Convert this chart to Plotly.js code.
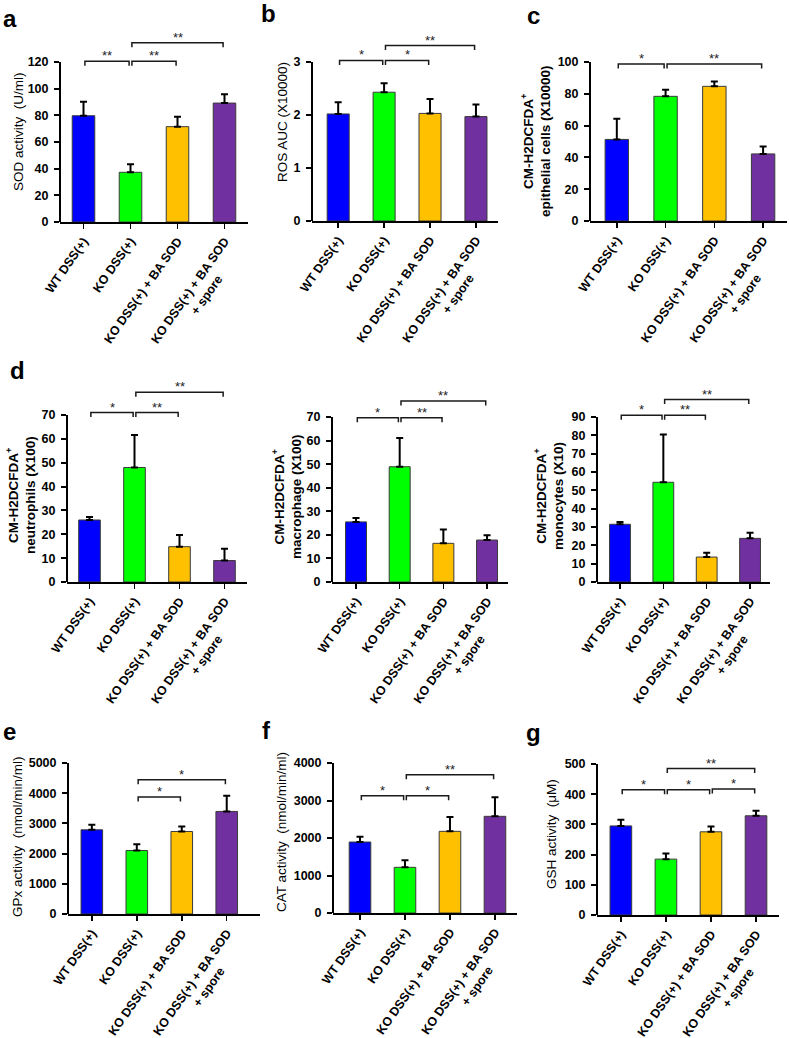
<!DOCTYPE html>
<html><head><meta charset="utf-8">
<script src="https://cdn.plot.ly/plotly-3.0.1.min.js"></script>
<style>html,body{margin:0;padding:0;background:#fff}#chart{width:789px;height:1038px}</style>
</head><body><div id="chart"></div>
<script>
// ---------- data ----------
const categories = ['WT DSS(+)', 'KO DSS(+)', 'KO DSS(+) + BA SOD', 'KO DSS(+) + BA SOD<br>+ spore'];
const barColors = ['#0000FF', '#00FF00', '#FFC000', '#7030A0'];
const noLowerError = [0, 0, 0, 0];

const sodMean = [79.7, 37.3, 71.5, 89.2];
const sodErr  = [10.5, 6.0, 7.5, 6.6];
const sodTicks = [0, 20, 40, 60, 80, 100, 120];
const sodSig = [[0, 1, 120.5, '**'], [1, 2, 120.5, '**'], [1, 3, 134.5, '**']];

const rosMean = [2.02, 2.43, 2.03, 1.97];
const rosErr  = [0.22, 0.17, 0.27, 0.23];
const rosTicks = [0, 1, 2, 3];
const rosSig = [[0, 1, 3.03, '*'], [1, 2, 3.03, '*'], [1, 3, 3.31, '**']];

const epiMean = [51.3, 78.4, 84.7, 42.2];
const epiErr  = [13.0, 4.2, 3.1, 4.6];
const epiTicks = [0, 20, 40, 60, 80, 100];
const epiSig = [[0, 1, 98.7, '*'], [1, 3, 98.7, '**']];

const neuMean = [26.0, 48.0, 14.8, 9.0];
const neuErr  = [1.2, 13.6, 4.9, 4.9];
const neuTicks = [0, 10, 20, 30, 40, 50, 60, 70];
const neuSig = [[0, 1, 71.0, '*'], [1, 2, 71.0, '**'], [1, 3, 79.5, '**']];

const macMean = [25.5, 48.9, 16.4, 17.8];
const macErr  = [1.7, 12.2, 5.9, 2.0];
const macTicks = [0, 10, 20, 30, 40, 50, 60, 70];
const macSig = [[0, 1, 69.7, '*'], [1, 2, 69.7, '**'], [1, 3, 76.8, '**']];

const monMean = [31.5, 54.4, 13.6, 23.8];
const monErr  = [1.2, 26.0, 2.4, 3.1];
const monTicks = [0, 10, 20, 30, 40, 50, 60, 70, 80, 90];
const monSig = [[0, 1, 90.9, '*'], [1, 2, 90.9, '**'], [1, 3, 99.5, '**']];

const gpxMean = [2788, 2102, 2732, 3396];
const gpxErr  = [166, 210, 166, 520];
const gpxTicks = [0, 1000, 2000, 3000, 4000, 5000];
const gpxSig = [[1, 2, 3872, '*'], [1, 3, 4447, '*']];

const catMean = [1893, 1218, 2178, 2578];
const catErr  = [143, 186, 382, 506];
const catTicks = [0, 1000, 2000, 3000, 4000];
const catSig = [[0, 1, 3129, '*'], [1, 2, 3129, '*'], [1, 3, 3689, '**']];

const gshMean = [295, 185, 275.5, 328.5];
const gshErr  = [20, 19, 17.5, 16.5];
const gshTicks = [0, 100, 200, 300, 400, 500];
const gshSig = [[0, 1, 415, '*'], [1, 2, 415, '*'], [2, 3, 417, '*'], [1, 3, 485, '**']];

// ---------- layout of panels (pixel boxes: left, right, bottom(y=0), top(y=max)) ----------
const panels = [
  {letter: 'a', lpos: [10, 18],  mean: sodMean, err: sodErr, ticks: sodTicks, sig: sodSig,
   title: 'SOD activity  (U/ml)', bold: false, tpos: [18, 132], box: [60, 248, 222, 62], xr: [-0.5, 3.5]},
  {letter: 'b', lpos: [268, 13], mean: rosMean, err: rosErr, ticks: rosTicks, sig: rosSig,
   title: 'ROS AUC (X10000)', bold: false, tpos: [283, 122], box: [312, 498, 221, 62], xr: [-0.57, 3.48]},
  {letter: 'c', lpos: [533, 15], mean: epiMean, err: epiErr, ticks: epiTicks, sig: epiSig,
   title: 'CM-H2DCFDA<sup>+</sup><br>epithelial cells (X10000)', bold: true, tpos: [535, 141], box: [590, 787, 221, 62], xr: [-0.55, 3.49]},
  {letter: 'd', lpos: [17, 370], mean: neuMean, err: neuErr, ticks: neuTicks, sig: neuSig,
   title: 'CM-H2DCFDA<sup>+</sup><br>neutrophils (X100)', bold: true, tpos: [20, 495], box: [67, 247, 582, 415], xr: [-0.5, 3.5]},
  {letter: '', lpos: null, mean: macMean, err: macErr, ticks: macTicks, sig: macSig,
   title: 'CM-H2DCFDA<sup>+</sup><br>macrophage (X100)', bold: true, tpos: [286, 497], box: [332, 508, 582, 417], xr: [-0.55, 3.48]},
  {letter: '', lpos: null, mean: monMean, err: monErr, ticks: monTicks, sig: monSig,
   title: 'CM-H2DCFDA<sup>+</sup><br>monocytes (X10)', bold: true, tpos: [548, 496], box: [597, 770, 582, 417], xr: [-0.53, 3.46]},
  {letter: 'e', lpos: [9, 731],  mean: gpxMean, err: gpxErr, ticks: gpxTicks, sig: gpxSig,
   title: 'GPx activity  (nmol/min/ml)', bold: false, tpos: [17, 837], box: [68, 260, 914, 763], xr: [-0.53, 3.74]},
  {letter: 'f', lpos: [266, 730], mean: catMean, err: catErr, ticks: catTicks, sig: catSig,
   title: 'CAT activity  (nmol/min/ml)', bold: false, tpos: [281, 832], box: [333, 517, 913, 763], xr: [-0.6, 3.49]},
  {letter: 'g', lpos: [533, 732], mean: gshMean, err: gshErr, ticks: gshTicks, sig: gshSig,
   title: 'GSH activity  (\u03bcM)', bold: false, tpos: [551, 834], box: [597, 779, 915, 764], xr: [-0.53, 3.51]}
];

const W = 789, H = 1038;
const K = 1.25;           // range headroom above the top tick (room for brackets)
const FONT = 'Liberation Sans, Arial, Helvetica, sans-serif';
const xIdx = [0, 1, 2, 3];
// centre the second line of a wrapped tick label under the first (labels are end-anchored)
const NB = '\u00a0';
const tickText = categories.map(c => {
  const parts = c.split('<br>');
  if (parts.length < 2) return c;
  return parts[0] + '<br>' + parts[1] + NB.repeat(10);
});

const traces = [];
const layout = {
  width: W, height: H, margin: {l: 0, r: 0, t: 0, b: 0},
  paper_bgcolor: '#ffffff', plot_bgcolor: 'rgba(0,0,0,0)',
  showlegend: false, font: {family: FONT, color: '#000'},
  shapes: [], annotations: []
};

panels.forEach((p, i) => {
  const n = i === 0 ? '' : String(i + 1);
  const xa = 'x' + n, ya = 'y' + n;
  const [L, R, B, T] = p.box;
  const ymax = p.ticks[p.ticks.length - 1];
  const ytop = ymax * K;
  const domTop = B - (B - T) * K;
  const plotH = B - domTop;
  const leg = ytop / plotH * 4.5;  // bracket legs in px

  traces.push({
    type: 'bar', x: xIdx, y: p.mean, xaxis: xa, yaxis: ya, width: 0.48,
    marker: {color: barColors, line: {color: '#3a3a3a', width: 1}},
    error_y: {type: 'data', symmetric: false, array: p.err, arrayminus: noLowerError,
              color: '#000', thickness: 2, width: 3.5},
    hoverinfo: 'none'
  });

  layout['xaxis' + n] = {
    domain: [L / W, R / W], anchor: ya, range: p.xr, fixedrange: true,
    tickvals: xIdx, ticktext: tickText, tickangle: -55,
    ticks: 'outside', ticklen: 5, tickwidth: 1.5, tickcolor: '#000',
    showline: true, linewidth: 2, linecolor: '#000', showgrid: false, zeroline: false,
    tickfont: {family: FONT, size: 12.5, color: '#000', weight: 'bold'}
  };
  layout['yaxis' + n] = {
    domain: [1 - B / H, 1 - domTop / H], anchor: xa, range: [0, ytop], fixedrange: true,
    tickvals: p.ticks, ticks: 'outside', ticklen: 5, tickwidth: 2, tickcolor: '#000',
    showline: false, showgrid: false, zeroline: false, ticklabelstandoff: 3,
    tickfont: {family: FONT, size: 12.5, color: '#000', weight: 'bold'}
  };

  // y axis line, only up to the top tick
  layout.shapes.push({type: 'line', xref: xa + ' domain', yref: ya, x0: 0, x1: 0, y0: 0, y1: ymax,
                      line: {color: '#000', width: 2}});

  // significance brackets
  p.sig.forEach(([a, b, lvl, txt]) => {
    const x0 = a + 0.03, x1 = b - 0.03;
    layout.shapes.push({type: 'path', xref: xa, yref: ya,
      path: `M${x0},${lvl - leg} L${x0},${lvl} L${x1},${lvl} L${x1},${lvl - leg}`,
      line: {color: '#1a1a1a', width: 1.5}});
    layout.annotations.push({xref: xa, yref: ya, x: (a + b) / 2, y: lvl, text: txt,
      showarrow: false, xanchor: 'center', yanchor: 'bottom', yshift: -4,
      font: {family: FONT, size: 13, color: '#222'}});
  });

  // y title
  layout.annotations.push({xref: 'paper', yref: 'paper', x: p.tpos[0] / W, y: 1 - p.tpos[1] / H,
    text: p.title, textangle: -90, showarrow: false, xanchor: 'center', yanchor: 'middle',
    font: {family: FONT, size: 13.5, color: '#000', weight: p.bold ? 'bold' : 'normal'}});

  // panel letter
  if (p.letter) {
    layout.annotations.push({xref: 'paper', yref: 'paper', x: p.lpos[0] / W, y: 1 - p.lpos[1] / H,
      text: p.letter, showarrow: false, xanchor: 'center', yanchor: 'middle',
      font: {family: FONT, size: 24, color: '#000', weight: 'bold'}});
  }
});

Plotly.newPlot('chart', traces, layout, {staticPlot: true, displayModeBar: false});
</script>
</body></html>
